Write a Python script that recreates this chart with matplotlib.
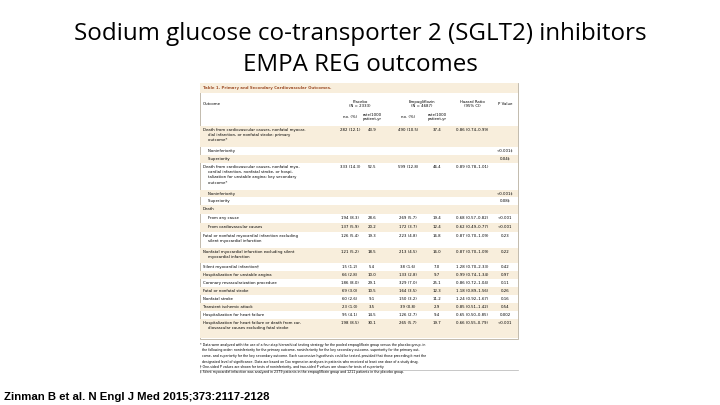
import matplotlib.pyplot as plt
from matplotlib.patches import Rectangle

# table rows: (outcome text, placebo n(%), placebo rate, empa n(%), empa rate, HR, P)
outcomes = ["Death from cardiovascular causes, nonfatal myocar-\n    dial infarction, or nonfatal stroke: primary\n    outcome*",
            "    Noninferiority", "    Superiority",
            "Death from cardiovascular causes, nonfatal myo-\n    cardial infarction, nonfatal stroke, or hospi-\n    talization for unstable angina: key secondary\n    outcome*",
            "    Noninferiority", "    Superiority",
            "Death",
            "    From any cause", "    From cardiovascular causes",
            "Fatal or nonfatal myocardial infarction excluding\n    silent myocardial infarction",
            "Nonfatal myocardial infarction excluding silent\n    myocardial infarction",
            "Silent myocardial infarction\u2020", "Hospitalization for unstable angina",
            "Coronary revascularization procedure", "Fatal or nonfatal stroke",
            "Nonfatal stroke", "Transient ischemic attack", "Hospitalization for heart failure",
            "Hospitalization for heart failure or death from car-\n    diovascular causes excluding fatal stroke"]
placebo_n = ["282 (12.1)", "", "", "333 (14.3)", "", "", "", "194 (8.3)", "137 (5.9)", "126 (5.4)",
             "121 (5.2)", "15 (1.2)", "66 (2.8)", "186 (8.0)", "69 (3.0)", "60 (2.6)", "23 (1.0)",
             "95 (4.1)", "198 (8.5)"]
placebo_rate = ["43.9", "", "", "52.5", "", "", "", "28.6", "20.2", "19.3", "18.5", "5.4", "10.0",
                "29.1", "10.5", "9.1", "3.5", "14.5", "30.1"]
empa_n = ["490 (10.5)", "", "", "599 (12.8)", "", "", "", "269 (5.7)", "172 (3.7)", "223 (4.8)",
          "213 (4.5)", "38 (1.6)", "133 (2.8)", "329 (7.0)", "164 (3.5)", "150 (3.2)", "39 (0.8)",
          "126 (2.7)", "265 (5.7)"]
empa_rate = ["37.4", "", "", "46.4", "", "", "", "19.4", "12.4", "16.8", "16.0", "7.0", "9.7",
             "25.1", "12.3", "11.2", "2.9", "9.4", "19.7"]
hazard = ["0.86 (0.74\u20130.99)", "", "", "0.89 (0.78\u20131.01)", "", "", "", "0.68 (0.57\u20130.82)",
          "0.62 (0.49\u20130.77)", "0.87 (0.70\u20131.09)", "0.87 (0.70\u20131.09)", "1.28 (0.70\u20132.33)",
          "0.99 (0.74\u20131.34)", "0.86 (0.72\u20131.04)", "1.18 (0.89\u20131.56)", "1.24 (0.92\u20131.67)",
          "0.85 (0.51\u20131.42)", "0.65 (0.50\u20130.85)", "0.66 (0.55\u20130.79)"]
p_value = ["", "<0.001\u2021", "0.04\u2021", "", "<0.001\u2021", "0.08\u2021", "", "<0.001", "<0.001",
           "0.23", "0.22", "0.42", "0.97", "0.11", "0.26", "0.16", "0.54", "0.002", "<0.001"]
row_top = [126, 147, 155, 163, 190, 197, 205, 214, 223, 232, 248, 263, 271, 279, 287, 295, 303, 311, 319]
row_bot = [147, 155, 163, 190, 197, 205, 214, 223, 232, 248, 263, 271, 279, 287, 295, 303, 311, 319, 338]
shaded = [1, 0, 1, 0, 1, 0, 1, 0, 1, 0, 1, 0, 1, 0, 1, 0, 1, 0, 1]

footnotes = ["* Data were analyzed with the use of a four-step hierarchical testing strategy for the pooled empagliflozin group versus the placebo group, in",
             "  the following order: noninferiority for the primary outcome, noninferiority for the key secondary outcome, superiority for the primary out-",
             "  come, and superiority for the key secondary outcome. Each successive hypothesis could be tested, provided that those preceding it met the",
             "  designated level of significance. Data are based on Cox regression analyses in patients who received at least one dose of a study drug.",
             "\u2020 One-sided P values are shown for tests of noninferiority, and two-sided P values are shown for tests of superiority.",
             "\u2021 Silent myocardial infarction was analyzed in 2379 patients in the empagliflozin group and 1211 patients in the placebo group."]

fig = plt.figure(figsize=(7.2, 4.05), dpi=100)
ax = fig.add_axes([0, 0, 1, 1])
ax.set_xlim(0, 720)
ax.set_ylim(405, 0)
ax.axis('off')

ax.text(360, 34, "Sodium glucose co-transporter 2 (SGLT2) inhibitors", ha='center', va='center',
        fontsize=17.4, family='Open Sans', color='black')
ax.text(360, 65, "EMPA REG outcomes", ha='center', va='center', fontsize=17.4,
        family='Open Sans', color='black')

beige = '#f8eedc'
fs = 2.8
# table frame and header
ax.add_patch(Rectangle((200, 83), 318, 256, fill=False, ec='#b8b0a0', lw=0.6))
ax.add_patch(Rectangle((200, 83), 318, 10, fc=beige, ec='none'))
ax.text(203, 88, "Table 1. Primary and Secondary Cardiovascular Outcomes.", fontsize=fs,
        color='#a0522d', va='center', fontweight='bold')
ax.text(203, 104, "Outcome", fontsize=fs, va='center')
for x, t in [(360, "Placebo\n(N = 2333)"), (422, "Empagliflozin\n(N = 4687)"),
             (472, "Hazard Ratio\n(95% CI)"), (505, "P Value")]:
    ax.text(x, 104, t, fontsize=fs, ha='center', va='center')
for x, t in [(350, "no. (%)"), (372, "rate/1000\npatient-yr"), (408, "no. (%)"), (437, "rate/1000\npatient-yr")]:
    ax.text(x, 117, t, fontsize=fs, ha='center', va='center')

cols = [(350, placebo_n), (372, placebo_rate), (408, empa_n), (437, empa_rate), (472, hazard), (505, p_value)]
for i, label in enumerate(outcomes):
    if shaded[i]:
        ax.add_patch(Rectangle((200, row_top[i]), 318, row_bot[i] - row_top[i], fc=beige, ec='none'))
    ax.text(203, row_top[i] + 2, label, fontsize=fs, va='top', linespacing=1.4)
    for x, vals in cols:
        ax.text(x, row_top[i] + 2, vals[i], fontsize=fs, ha='center', va='top')

ax.text(200, 343, "\n".join(footnotes), fontsize=2.3, va='top', linespacing=1.5)
ax.plot([200, 518], [370, 370], color='#b0b0b0', lw=0.5)

ax.text(4, 397, "Zinman B et al. N Engl J Med 2015;373:2117-2128", fontsize=8.2,
        family='Liberation Sans', fontweight='bold', va='center')

fig.savefig('out.png', dpi=100)
